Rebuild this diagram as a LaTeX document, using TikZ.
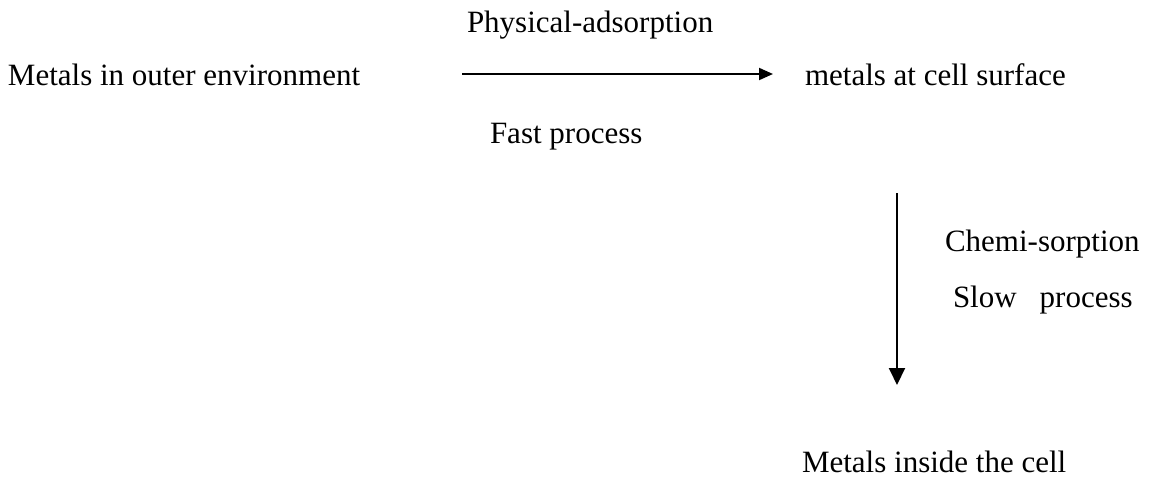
\documentclass[tikz,border=0pt]{standalone}
\usepackage{fontspec}
\setmainfont{Liberation Serif}
\usetikzlibrary{arrows.meta}
\begin{document}
\begin{tikzpicture}[x=1pt,y=-1pt,
  lbl/.style={anchor=base west,inner sep=0pt,outer sep=0pt,font=\fontsize{31}{37}\selectfont},
  harrow/.style={line width=2pt,-{Triangle[length=14pt,width=12pt]}},
  varrow/.style={line width=2pt,-{Triangle[length=17pt,width=16pt]}}]
\useasboundingbox (0,0) rectangle (1151,477);
\node[lbl] (outer) at (8,85) {Metals in outer environment};
\node[lbl] (phys) at (467,32) {Physical-adsorption};
\node[lbl] (fast) at (490,143) {Fast process};
\node[lbl] (surf) at (805,85) {metals at cell surface};
\node[lbl] (chemi) at (945,251) {Chemi-sorption};
\node[lbl] (slow) at (953,307) {Slow\hspace{23pt}process};
\node[lbl] (inside) at (802,472) {Metals inside the cell};
\coordinate (hs) at (462,74);
\coordinate (he) at (773,74);
\coordinate (vs) at (897,193);
\coordinate (ve) at (897,385);
\draw[harrow] (hs) -- (he);
\draw[varrow] (vs) -- (ve);
\end{tikzpicture}
\end{document}
